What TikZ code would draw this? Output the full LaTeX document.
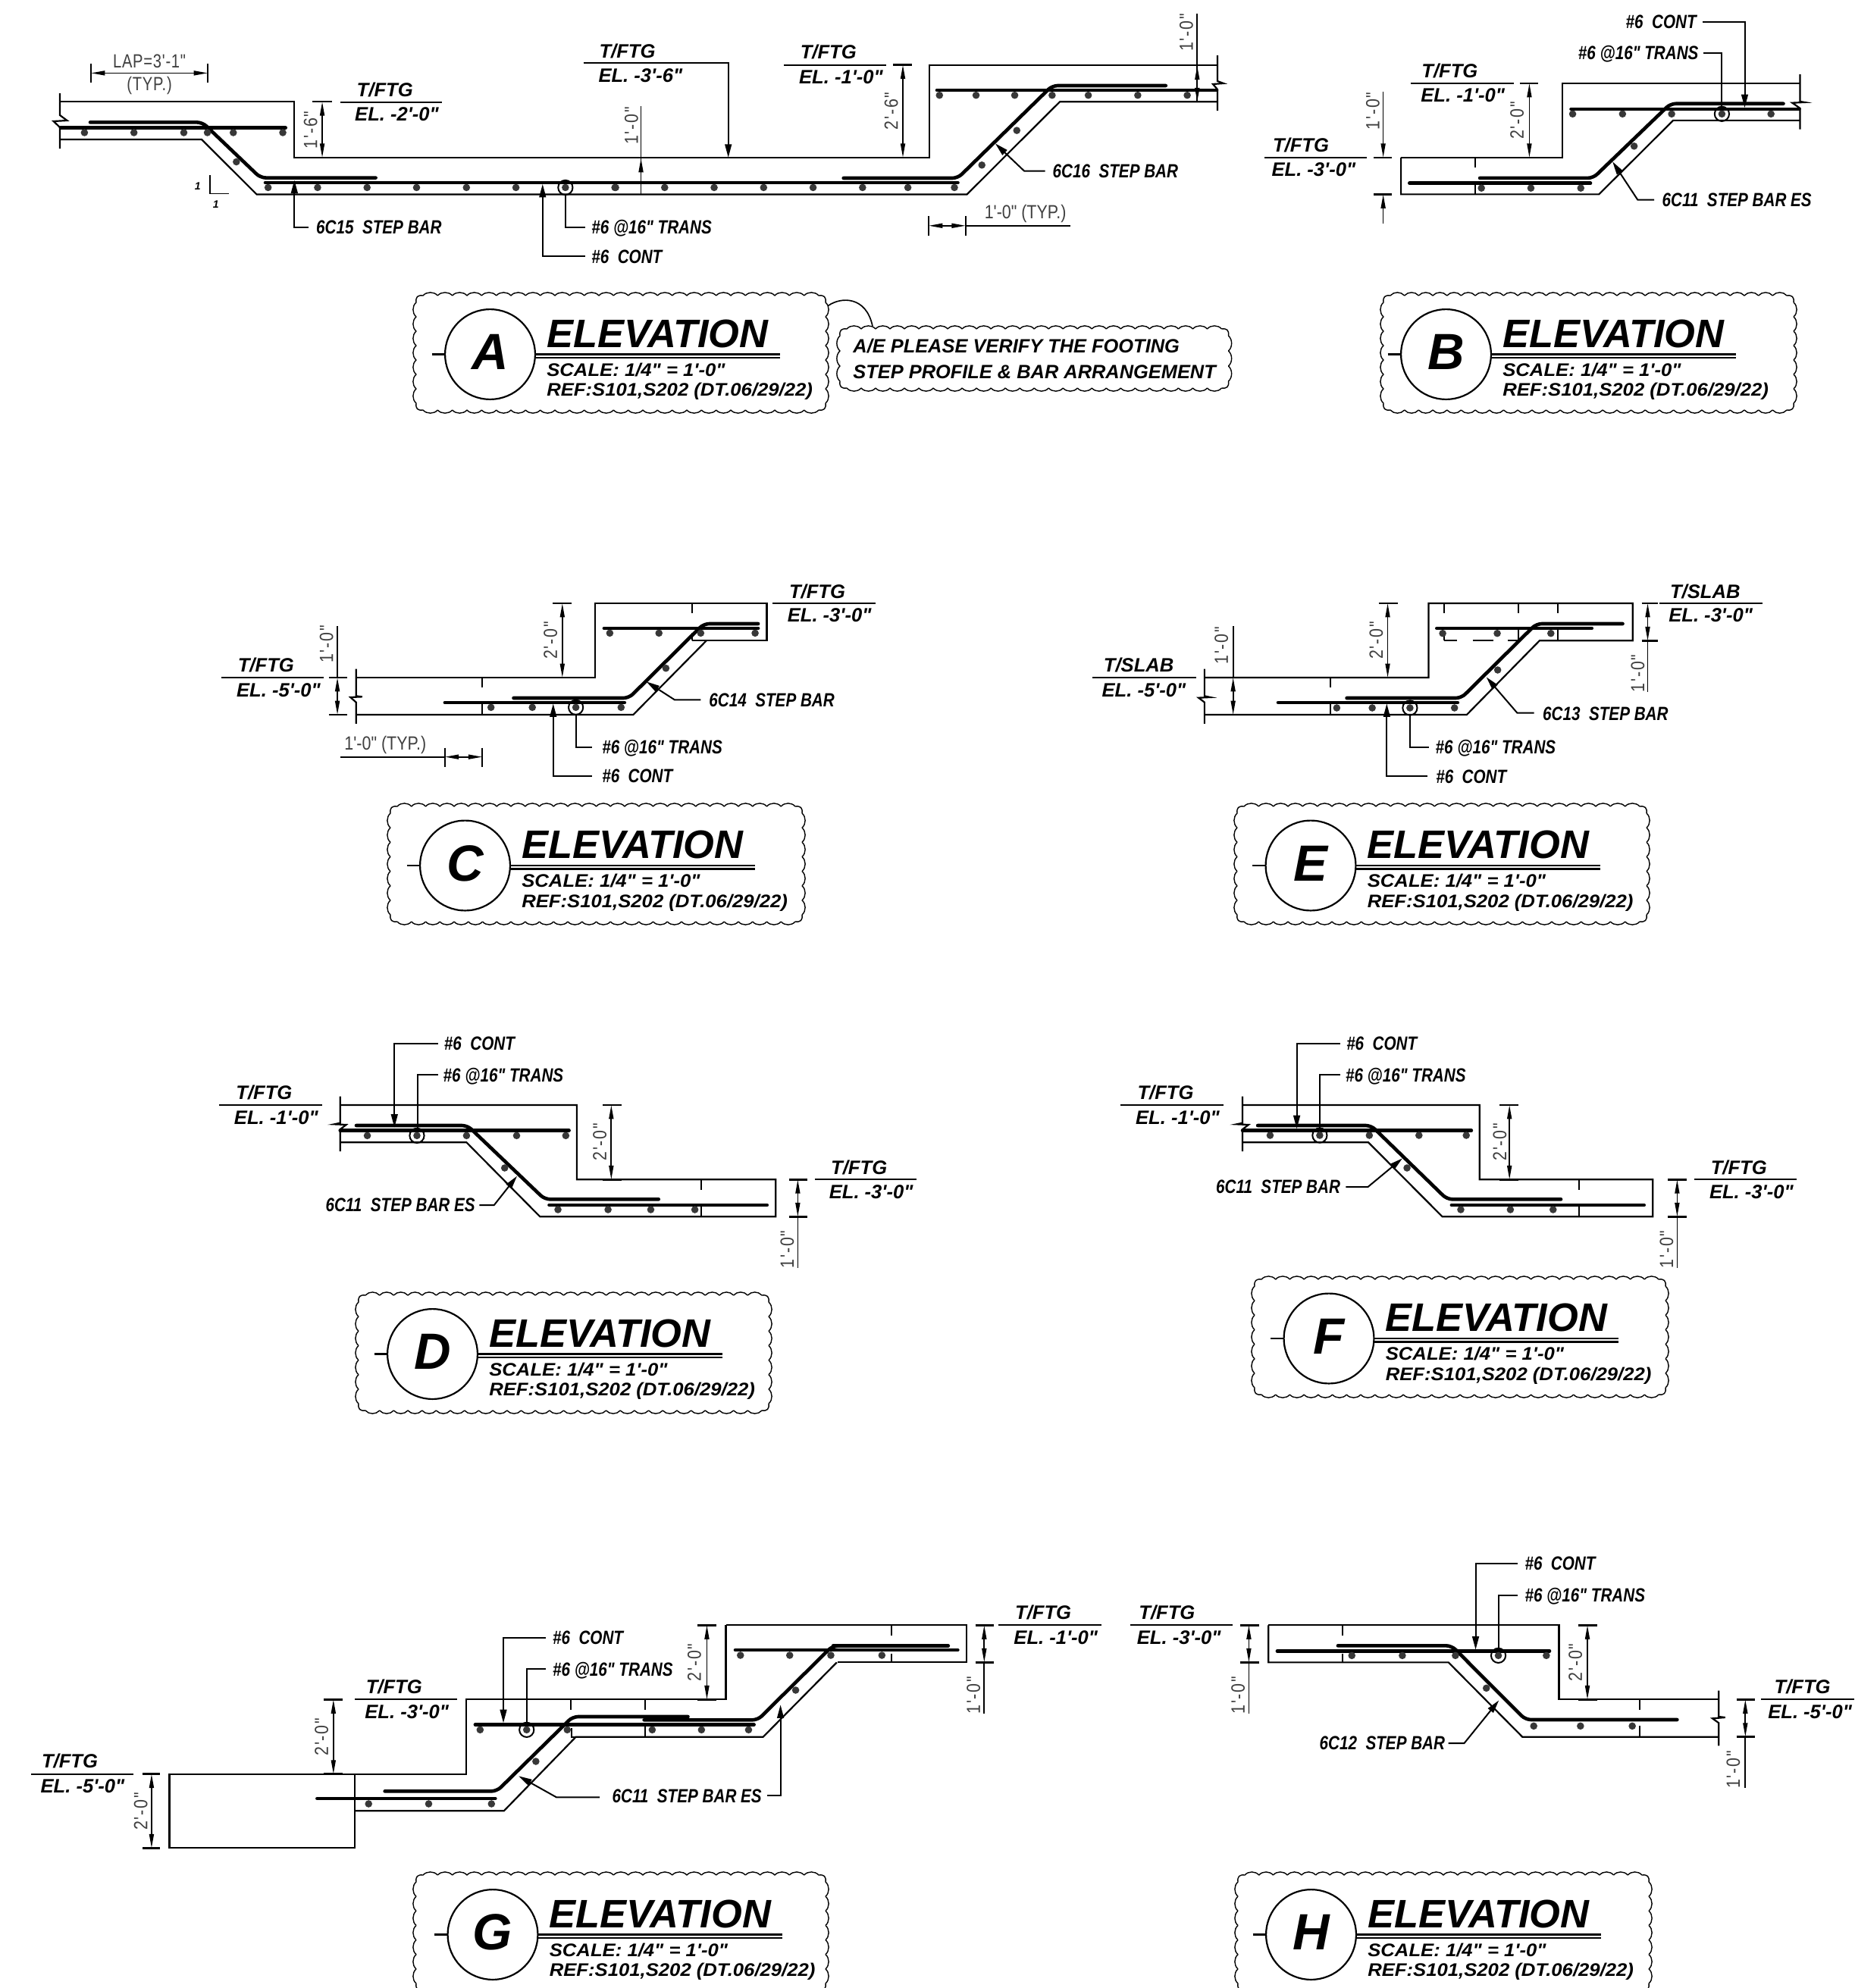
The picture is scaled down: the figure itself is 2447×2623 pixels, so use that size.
\documentclass[tikz,border=0pt]{standalone}
\usepackage{fontspec}
\usetikzlibrary{arrows.meta}
\newfontfamily\fnorm{Liberation Sans}
\newfontfamily\fcall[FakeStretch=0.82]{Liberation Sans}
\newfontfamily\fdim[FakeStretch=0.85]{Liberation Sans}
\newfontfamily\fvd[FakeStretch=0.85,LetterSpace=7]{Liberation Sans}
\newfontfamily\flap[FakeStretch=0.8,LetterSpace=3]{Liberation Sans}
\newfontfamily\fsub[FakeStretch=1.07]{Liberation Sans}
\newcounter{nn}
\tikzset{
 >={Triangle[length=4.6pt,width=1.5pt]},
 zm/.style n args={4}{xshift=#1*0.25pt,yshift=-#2*0.25pt,x=0.25pt/#3,y=-0.25pt/#4},
 ol/.style={line width=0.55pt,line join=miter},
 dl/.style={line width=0.42pt},
 ld/.style={line width=0.5pt,>={Triangle[length=4.4pt,width=2.2pt]}},
 bar/.style={line width=1.15pt,line cap=round,rounded corners=1.8pt},
 dotc/.style={fill=black!78},
 clab/.style={anchor=base west,inner sep=0pt,font=\fcall\bfseries\itshape\fontsize{6.3}{7}\selectfont},
 elab/.style={anchor=base west,inner sep=0pt,font=\fnorm\bfseries\itshape\fontsize{6.4}{7}\selectfont},
 vdim/.style={rotate=90,anchor=center,inner sep=0pt,text=black!75,font=\fvd\fontsize{6.3}{7}\selectfont},
 hdim/.style={anchor=base west,inner sep=0pt,text=black!75,font=\fdim\fontsize{6.3}{7}\selectfont},
 lapdim/.style={anchor=base,inner sep=0pt,text=black!75,font=\flap\fontsize{6.3}{7}\selectfont},
 cl/.style={line width=0.35pt},
 bigletter/.style={anchor=base,inner sep=0pt,font=\fnorm\bfseries\itshape\fontsize{16.8}{18}\selectfont},
 bigtitle/.style={anchor=base west,inner sep=0pt,font=\fnorm\bfseries\itshape\fontsize{13.1}{14}\selectfont},
 subtitle/.style={anchor=base west,inner sep=0pt,font=\fsub\bfseries\itshape\fontsize{6}{7}\selectfont},
 notetext/.style={anchor=base west,inner sep=0pt,font=\fnorm\bfseries\itshape\fontsize{6.35}{7}\selectfont},
 tiny1/.style={anchor=center,inner sep=0pt,font=\fnorm\bfseries\itshape\fontsize{3.5}{4}\selectfont},
}
\newcommand{\Clab}[3]{\stepcounter{nn}\node[clab] (n\thenn) at (#1,#2) {#3};}
\newcommand{\Vdim}[3]{\stepcounter{nn}\node[vdim] (n\thenn) at (#1,#2) {#3};}
\newcommand{\Hdim}[3]{\stepcounter{nn}\node[hdim] (n\thenn) at (#1,#2) {#3};}
% level mark: line x1 x2 y, name at x y, elevation at x y, name, elevation
\newcommand{\lev}[9]{\draw[ol] (#1,#3)--(#2,#3);\stepcounter{nn}\node[elab] (n\thenn) at (#4,#5) {#8};\stepcounter{nn}\node[elab] (n\thenn) at (#6,#7) {#9};}
\newcommand{\dotrow}[2]{\foreach \q in {#2} {\fill[dotc] (\q,#1) circle (1.2pt);}}
\newcommand{\circdot}[2]{\draw[ld] (#1,#2) circle (2.4pt);\fill[dotc] (#1,#2) circle (1.2pt);}
\newcommand{\tbar}[3]{\draw[dl,line width=0.6pt] (#1,#3)--(#2,#3);}
% scalloped revision cloud, in full-size pixel units: left top right bottom (outer extent)
\newcommand{\cloudrect}[4]{%
 \pgfmathsetmacro\cL{#1+4}
 \pgfmathsetmacro\cT{#2+4}
 \pgfmathsetmacro\cR{#3-4}
 \pgfmathsetmacro\cD{#4-4}
 \pgfmathsetmacro\cC{9}
 \pgfmathtruncatemacro\cNh{round((\cR-\cL-2*\cC)/19)}
 \pgfmathtruncatemacro\cNv{round((\cD-\cT-2*\cC)/19)}
 \pgfmathsetmacro\cWh{(\cR-\cL-2*\cC)/\cNh}
 \pgfmathsetmacro\cWv{(\cD-\cT-2*\cC)/\cNv}
 \foreach \i in {1,...,\cNh}{
  \pgfmathsetmacro\cA{\cL+\cC+(\i-1)*\cWh}
  \pgfmathsetmacro\cB{\cA+\cWh}
  \pgfmathsetmacro\cP{\cA+\cWh/4}
  \pgfmathsetmacro\cQ{\cA+3*\cWh/4}
  \draw[cl] (\cA,\cT) .. controls (\cP,{\cT-5.5}) and (\cQ,{\cT-5.5}) .. (\cB,\cT);
  \draw[cl] (\cA,\cD) .. controls (\cP,{\cD+5.5}) and (\cQ,{\cD+5.5}) .. (\cB,\cD);
 }
 \foreach \i in {1,...,\cNv}{
  \pgfmathsetmacro\cA{\cT+\cC+(\i-1)*\cWv}
  \pgfmathsetmacro\cB{\cA+\cWv}
  \pgfmathsetmacro\cP{\cA+\cWv/4}
  \pgfmathsetmacro\cQ{\cA+3*\cWv/4}
  \draw[cl] (\cL,\cA) .. controls ({\cL-5.5},\cP) and ({\cL-5.5},\cQ) .. (\cL,\cB);
  \draw[cl] (\cR,\cA) .. controls ({\cR+5.5},\cP) and ({\cR+5.5},\cQ) .. (\cR,\cB);
 }
 \draw[cl] (\cL,{\cT+\cC}) .. controls ({\cL-1},{\cT+2}) and ({\cL+2},{\cT-1}) .. ({\cL+\cC},\cT);
 \draw[cl] ({\cR-\cC},\cT) .. controls ({\cR-2},{\cT-1}) and ({\cR+1},{\cT+2}) .. (\cR,{\cT+\cC});
 \draw[cl] (\cL,{\cD-\cC}) .. controls ({\cL-1},{\cD-2}) and ({\cL+2},{\cD+1}) .. ({\cL+\cC},\cD);
 \draw[cl] ({\cR-\cC},\cD) .. controls ({\cR-2},{\cD+1}) and ({\cR+1},{\cD-2}) .. (\cR,{\cD-\cC});
}
% title block: left top right bottom cx cy letter
\newcommand{\tblock}[7]{%
 \cloudrect{#1}{#2}{#3}{#4}
 \draw[ol] ({#5},{#6}) circle (14.85pt);
 \draw[ol] ({#5-77},#6)--({#5-59.5},#6);
 \draw[ol] ({#5+59.5},#6)--({#5+382},#6);
 \draw[ol] ({#5+59.5},{#6+4.5})--({#5+382},{#6+4.5});
 \stepcounter{nn}\node[bigletter] (n\thenn) at (#5,{#6+20}) {#7};
 \stepcounter{nn}\node[bigtitle] (n\thenn) at ({#5+74},{#6-9.5}) {ELEVATION};
 \stepcounter{nn}\node[subtitle] (n\thenn) at ({#5+74},{#6+28.5}) {SCALE: 1/4" = 1'-0"};
 \stepcounter{nn}\node[subtitle] (n\thenn) at ({#5+74},{#6+55}) {REF:S101,S202 (DT.06/29/22)};
}
\begin{document}
\begin{tikzpicture}[x=0.25pt,y=-0.25pt]
\useasboundingbox (0,0) rectangle (2447,2623);
\clip (0,0) rectangle (2447,2623);
\fill[white] (0,0) rectangle (2447,2623);

% ===== A =====
\draw[ol] (79,123)--(79,152)--(88.5,159)--(70.6,160)--(79,168)--(79,196);
\draw[ol] (79,134.3)--(388,134.3)--(388,207.9)--(1225.7,207.9)--(1225.7,85.7)--(1606,85.7);
\draw[ol] (79,184)--(266,184)--(338.5,256.4)--(1275.6,256.4)--(1398,134.3)--(1606,134.3);
\draw[ol] (1606,73)--(1606,107)--(1614,110)--(1600,111)--(1606,118)--(1606,146);
\draw[bar] (119,161.4)--(267,161.4)--(343.6,234.6)--(495.6,234.6);
\draw[bar] (80,168.6)--(376.7,168.6);
\draw[bar] (350,241)--(1263.5,241);
\draw[bar] (1112.7,235)--(1263.5,235)--(1388,113)--(1537.8,113);
\draw[bar] (1236,119)--(1605,119);
\draw[ld,->] (769.6,83.2)--(960.7,83.2)--(960.7,207.9);
\begin{scope}[zm={40}{0}{1.96}{2.8}]
 \dotrow{490}{140,268,397,458,525,653}
 \fill[dotc] (533,598) circle (1.2pt);
 \dotrow{693}{615,743,871,999,1128,1256,1512}
 \circdot{1384}{693}
 \draw[dl] (157,235)--(157,305) (459,235)--(459,305);
 \draw[dl,<->] (157,270)--(459,270);
 \stepcounter{nn}\node[lapdim] (n\thenn) at (308,250) {LAP=3'-1"};
 \stepcounter{nn}\node[lapdim] (n\thenn) at (308,336) {(TYP.)};
 \tbar{730}{780}{376}\tbar{730}{780}{582}
 \draw[dl,<->] (755,376)--(755,582);
 \Vdim{725}{480}{1'-6"}
 \lev{802}{1065}{377}{843}{358}{838}{447}{T/FTG}{EL. -2'-0"}
 \draw[dl] (465,648)--(465,716)--(513,716);
 \stepcounter{nn}\node[tiny1] (n\thenn) at (433,688) {1};
 \stepcounter{nn}\node[tiny1] (n\thenn) at (480,755) {1};
 \draw[ld,->] (720,840)--(683,840)--(683,665);
 \Clab{738}{865}{6C15\ \ STEP BAR}
 \draw[ld,->] (1435,947)--(1325,947)--(1325,680);
 \Clab{1450}{972}{\#6\ \ CONT}
 \draw[ld] (1435,840)--(1384,840)--(1384,718);
 \Clab{1450}{865}{\#6 @16" TRANS}
 \stepcounter{nn}\node[elab] (n\thenn) at (1470,215) {T/FTG};
 \stepcounter{nn}\node[elab] (n\thenn) at (1468,303) {EL. -3'-6"};
\end{scope}
\begin{scope}[zm={800}{0}{1.823}{2.8}]
 \dotrow{693}{140,259,378,497,616,725,837,22}
 \fill[dotc] (903,610) circle (1.2pt);
 \fill[dotc] (987,482) circle (1.2pt);
 \dotrow{352}{801,889,982,1072,1159,1278,1397}
 \draw[dl] (83,392)--(83,718);
 \draw[dl,<-] (83,585)--(83,640);
 \Vdim{60}{465}{1'-0"}
 \lev{427}{673}{240}{465}{218}{462}{310}{T/FTG}{EL. -1'-0"}
 \tbar{690}{735}{240}\tbar{695}{735}{582}
 \draw[dl,<->] (713,240)--(713,582);
 \Vdim{685}{410}{2'-6"}
 \draw[dl] (1421,50)--(1421,378);
 \draw[dl,<-] (1421,243)--(1421,300);
 \draw[dl,->] (1421,320)--(1421,376);
 \Vdim{1395}{120}{1'-0"}
 \draw[ld,->] (1055,632)--(1005,632)--(935,530);
 \Clab{1072}{657}{6C16\ \ STEP BAR}
 \draw[dl] (775,798)--(775,870) (864,798)--(864,870);
 \draw[dl,<->] (775,834)--(864,834);
 \draw[dl] (864,834)--(1116,834);
 \Hdim{908}{808}{1'-0" (TYP.)}
 \draw[dl] (533,1130) .. controls (565,1095) and (625,1095) .. (640,1205);
 \stepcounter{nn}\node[notetext] (n\thenn) at (592,1305) {A/E PLEASE VERIFY THE FOOTING};
 \stepcounter{nn}\node[notetext] (n\thenn) at (592,1398) {STEP PROFILE \& BAR ARRANGEMENT};
\end{scope}
\cloudrect{1104}{430}{1624.5}{516}
\tblock{545}{386}{1093}{545}{646.5}{467.5}{A}

% ===== B =====
\begin{scope}[zm={1640}{0}{1.96}{2.8}]
 \draw[ol] (408,582)--(825,582)--(825,307)--(1440,307);
 \draw[ol] (408,582)--(408,718)--(920,718)--(1112,445)--(1440,445);
 \draw[ol] (1440,275)--(1440,375)--(1452,378)--(1420,380)--(1440,400)--(1440,478);
 \draw[dl] (600,582)--(600,620) (600,682)--(600,718);
 \draw[bar] (612,658)--(905,658)--(1105,383)--(1397,383);
 \draw[bar] (430,677)--(898,677);
 \draw[bar] (848,403)--(1438,403);
 \dotrow{695}{616,744,873}
 \fill[dotc] (1011,540) circle (1.2pt);
 \dotrow{421}{852,981,1108,1365}
 \circdot{1238}{421}
 \draw[dl,->] (362,340)--(362,582);
 \draw[dl,->] (362,825)--(362,718);
 \tbar{338}{385}{582}\tbar{338}{385}{718}
 \Vdim{335}{410}{1'-0"}
 \lev{55}{320}{582}{75}{562}{72}{652}{T/FTG}{EL. -3'-0"}
 \lev{433}{700}{308}{460}{288}{458}{378}{T/FTG}{EL. -1'-0"}
 \tbar{715}{763}{308}\tbar{715}{763}{582}
 \draw[dl,<->] (740,308)--(740,582);
 \Vdim{708}{445}{2'-0"}
 \draw[ld,->] (1188,80)--(1297,80)--(1297,398);
 \Clab{988}{105}{\#6\ \ CONT}
 \draw[ld] (1190,197)--(1238,197)--(1238,395);
 \Clab{865}{220}{\#6 @16" TRANS}
 \draw[ld,->] (1063,738)--(1020,738)--(955,597);
 \Clab{1082}{762}{6C11\ \ STEP BAR ES}
\end{scope}
\tblock{1821}{386}{2370}{545}{1907.5}{467.5}{B}

% ===== C =====
\begin{scope}[zm={270}{740}{1.742}{3}]
 \draw[ol] (348,462)--(897,462)--(897,168)--(1292,168)--(1292,316)--(1120,316);
 \draw[ol] (348,609)--(985,609)--(1153,316);
 \draw[ol] (348,428)--(348,535)--(362,538)--(335,540)--(348,560)--(348,645);
 \draw[dl] (1120,168)--(1120,208) (1120,285)--(1120,316) (638,462)--(638,502) (638,568)--(638,609);
 \draw[bar] (710,543)--(975,543)--(1147,249)--(1272,249);
 \draw[bar] (552,561)--(965,561);
 \draw[bar] (918,267)--(1272,267);
 \dotrow{580}{658,753,957}
 \circdot{853}{580}
 \fill[dotc] (1060,425) circle (1.2pt);
 \dotrow{286}{931,1044,1140,1265}
 \draw[dl] (305,258)--(305,462);
 \draw[dl,<->] (305,462)--(305,609);
 \tbar{285}{327}{462}\tbar{285}{327}{609}
 \Vdim{280}{330}{1'-0"}
 \lev{38}{274}{462}{75}{440}{72}{538}{T/FTG}{EL. -5'-0"}
 \draw[dl,<->] (822,168)--(822,462);
 \tbar{800}{843}{168}\tbar{800}{843}{462}
 \Vdim{795}{315}{2'-0"}
 \lev{1305}{1542}{168}{1342}{148}{1338}{242}{T/FTG}{EL. -3'-0"}
 \draw[ld,->] (1140,550)--(1080,550)--(1015,478);
 \Clab{1158}{577}{6C14\ \ STEP BAR}
 \draw[ld] (890,738)--(853,738)--(853,607);
 \Clab{912}{765}{\#6 @16" TRANS}
 \draw[ld,->] (890,852)--(801,852)--(801,565);
 \Clab{912}{878}{\#6\ \ CONT}
 \draw[dl] (312,776)--(552,776);
 \draw[dl] (552,740)--(552,815) (638,740)--(638,815);
 \draw[dl,<->] (552,776)--(638,776);
 \Hdim{320}{750}{1'-0" (TYP.)}
\end{scope}
\tblock{511}{1060}{1062}{1220}{613.5}{1142}{C}

% ===== E =====
\begin{scope}[zm={1400}{740}{1.668}{3}]
 \draw[ol] (315,462)--(808,462)--(808,168)--(1257,168)--(1257,316)--(1052,316)--(892,609)--(315,609);
 \draw[ol] (315,428)--(315,535)--(328,540)--(302,542)--(315,560)--(315,645);
 \draw[dl] (842,168)--(842,208) (1006,168)--(1006,208) (1092,168)--(1092,208) (592,462)--(592,502) (592,568)--(592,609) (1092,270)--(1092,316) (1006,270)--(1006,316) (842,290)--(842,316);
 \draw[ol] (842,316)--(870,316) (905,316)--(950,316) (982,316)--(1005,316);
 \draw[bar] (628,543)--(880,543)--(1045,249)--(1235,249);
 \draw[bar] (477,561)--(872,561);
 \draw[bar] (826,267)--(1167,267);
 \dotrow{582}{606,684,865}
 \circdot{767}{582}
 \fill[dotc] (960,432) circle (1.2pt);
 \dotrow{287}{839,959,1077}
 \draw[dl] (378,258)--(378,462);
 \draw[dl,<->] (378,462)--(378,609);
 \tbar{358}{398}{462}\tbar{358}{398}{609}
 \Vdim{352}{335}{1'-0"}
 \lev{68}{296}{462}{92}{440}{88}{538}{T/SLAB}{EL. -5'-0"}
 \draw[dl,<->] (718,168)--(718,462);
 \tbar{698}{740}{168}\tbar{698}{740}{462}
 \Vdim{693}{315}{2'-0"}
 \tbar{1277}{1312}{168}\tbar{1277}{1312}{316}
 \draw[dl,<->] (1290,168)--(1290,316);
 \draw[dl] (1290,316)--(1290,520);
 \Vdim{1268}{445}{1'-0"}
 \lev{1316}{1542}{168}{1338}{148}{1335}{242}{T/SLAB}{EL. -3'-0"}
 \draw[ld,->] (1040,602)--(1003,602)--(935,460);
 \Clab{1058}{630}{6C13\ \ STEP BAR}
 \draw[ld] (808,738)--(767,738)--(767,607);
 \Clab{822}{765}{\#6 @16" TRANS}
 \draw[ld,->] (806,852)--(716,852)--(716,565);
 \Clab{823}{880}{\#6\ \ CONT}
\end{scope}
\tblock{1628}{1060}{2176}{1220}{1729}{1142}{E}

% ===== D =====
\begin{scope}[zm={270}{1350}{1.65}{3}]
 \draw[ol] (295,324)--(810,324)--(810,619)--(1243,619)--(1243,766)--(730,766)--(570,472)--(295,472);
 \draw[ol] (295,290)--(295,395)--(282,400)--(308,402)--(295,420)--(295,507);
 \draw[dl] (1081,619)--(1081,660) (1081,725)--(1081,766);
 \draw[bar] (330,405)--(572,405)--(740,697)--(988,697);
 \draw[bar] (295,425)--(793,425);
 \draw[bar] (750,720)--(1224,720);
 \dotrow{445}{354,570,679,786}
 \circdot{462}{445}
 \fill[dotc] (653,573) circle (1.2pt);
 \dotrow{738}{769,878,971,1067}
 \draw[dl,<->] (885,324)--(885,619);
 \tbar{867}{907}{324}\tbar{867}{907}{619}
 \Vdim{860}{470}{2'-0"}
 \draw[dl,<->] (1291,619)--(1291,766);
 \draw[dl] (1291,766)--(1291,968);
 \tbar{1272}{1312}{619}\tbar{1272}{1312}{766}
 \Vdim{1268}{895}{1'-0"}
 \lev{1328}{1550}{619}{1362}{597}{1358}{693}{T/FTG}{EL. -3'-0"}
 \lev{31}{255}{324}{67}{302}{63}{400}{T/FTG}{EL. -1'-0"}
 \draw[ld,->] (508,80)--(413,80)--(413,413);
 \Clab{520}{106}{\#6\ \ CONT}
 \draw[ld] (508,205)--(463,205)--(463,420);
 \Clab{518}{232}{\#6 @16" TRANS}
 \draw[ld,->] (598,720)--(630,720)--(680,605);
 \Clab{262}{745}{6C11\ \ STEP BAR ES}
\end{scope}
\tblock{469}{1705}{1018}{1865}{570.5}{1786.5}{D}

% ===== F =====
\begin{scope}[zm={1450}{1350}{1.65}{3}]
 \draw[ol] (312,324)--(828,324)--(828,619)--(1205,619)--(1205,766)--(747,766)--(586,472)--(312,472);
 \draw[ol] (312,290)--(312,395)--(299,400)--(325,402)--(312,420)--(312,507);
 \draw[dl] (1044,619)--(1044,660) (1044,725)--(1044,766);
 \draw[bar] (345,405)--(592,405)--(757,697)--(1005,697);
 \draw[bar] (312,425)--(810,425);
 \draw[bar] (767,720)--(1186,720);
 \dotrow{444}{372,588,696,799}
 \circdot{480}{444}
 \fill[dotc] (670,573) circle (1.2pt);
 \dotrow{738}{787,895,988}
 \draw[dl,<->] (893,324)--(893,619);
 \tbar{872}{913}{324}\tbar{872}{913}{619}
 \Vdim{872}{470}{2'-0"}
 \draw[dl,<->] (1258,619)--(1258,766);
 \draw[dl] (1258,766)--(1258,968);
 \tbar{1238}{1278}{619}\tbar{1238}{1278}{766}
 \Vdim{1235}{895}{1'-0"}
 \lev{1295}{1518}{619}{1330}{597}{1327}{693}{T/FTG}{EL. -3'-0"}
 \lev{46}{270}{324}{82}{302}{78}{400}{T/FTG}{EL. -1'-0"}
 \draw[ld,->] (525,80)--(430,80)--(430,418);
 \Clab{537}{106}{\#6\ \ CONT}
 \draw[ld] (525,205)--(480,205)--(480,420);
 \Clab{535}{232}{\#6 @16" TRANS}
 \draw[ld,->] (537,648)--(585,648)--(660,535);
 \Clab{253}{672}{6C11\ \ STEP BAR}
\end{scope}
\tblock{1651}{1684}{2201}{1844}{1753}{1766}{F}

% ===== G =====
\draw[ol] (957.9,2144.3)--(1275,2144.3)--(1275,2193.3)--(1105,2193.3);
\draw[bar] (1099,2171.7)--(1250.8,2171.7);
\draw[bar] (970,2177)--(1263.3,2177);
\begin{scope}[zm={20}{2030}{1.4}{3}]
 \draw[ol] (285,932)--(628,932)--(628,1225)--(285,1225)--cycle;
 \draw[ol] (628,932)--(833,932)--(833,637)--(1313,637)--(1313,343);
 \draw[ol] (628,1078)--(903,1078)--(1036,785)--(1382,785)--(1518,490);
 \draw[ol] (1028,750)--(1028,785)--(1036,785);
 \draw[dl] (1164,745)--(1164,785) (1027,637)--(1027,678) (1164,637)--(1164,678);
 \draw[bar] (683,1000)--(890,1000)--(1030,705)--(1243,705);
 \draw[bar] (1162,718)--(1372,718)--(1510,425)--(1593,425);
 \draw[bar] (558,1029)--(887,1029);
 \draw[bar] (850,736)--(1365,736);
 \dotrow{1050}{653,764,880}
 \fill[dotc] (962,882) circle (1.2pt);
 \dotrow{757}{859,1020,1177,1268,1355}
 \circdot{945}{757}
 \fill[dotc] (1442,600) circle (1.2pt);
 \dotrow{462}{1340,1431,1507}
 \draw[dl,<->] (252,932)--(252,1225);
 \tbar{235}{267}{932}\tbar{235}{267}{1225}
 \Vdim{232}{1080}{2'-0"}
 \lev{30}{218}{932}{48}{908}{46}{1007}{T/FTG}{EL. -5'-0"}
 \draw[dl,<->] (588,637)--(588,932);
 \tbar{570}{605}{637}\tbar{570}{605}{932}
 \Vdim{566}{785}{2'-0"}
 \lev{628}{816}{637}{647}{613}{645}{712}{T/FTG}{EL. -3'-0"}
 \draw[dl,<->] (1278,343)--(1278,637);
 \tbar{1260}{1295}{343}\tbar{1260}{1295}{637}
 \Vdim{1255}{490}{2'-0"}
 \draw[ld,->] (980,392)--(902,392)--(902,730);
 \Clab{992}{417}{\#6\ \ CONT}
 \draw[ld] (980,515)--(945,515)--(945,735);
 \Clab{992}{543}{\#6 @16" TRANS}
 \draw[ld,->] (1080,1024)--(1000,1024)--(930,940);
 \Clab{1102}{1045}{6C11\ \ STEP BAR ES}
 \draw[ld,->] (1390,1018)--(1414,1018)--(1414,658);
\end{scope}
\begin{scope}[zm={1140}{2030}{1.2}{3}]
 \draw[ol] (0,490)--(162,490)--(162,343);
 \draw[dl] (43,343)--(43,383) (43,455)--(43,490);
 \fill[dotc] (28,462) circle (1.2pt);
 \draw[dl,<->] (190,343)--(190,490);
 \draw[dl] (190,490)--(190,692);
 \tbar{176}{205}{343}\tbar{176}{205}{490}
 \Vdim{173}{620}{1'-0"}
 \lev{212}{376}{343}{238}{320}{236}{417}{T/FTG}{EL. -1'-0"}
 % ===== H =====
 \draw[ol] (640,343)--(1100,343)--(1100,637)--(1353,637);
 \draw[ol] (640,343)--(640,490)--(925,490)--(1042,785)--(1353,785);
 \draw[ol] (1353,602)--(1353,705)--(1363,708)--(1343,712)--(1353,730)--(1353,820);
 \draw[dl] (757,343)--(757,383) (757,455)--(757,490) (1228,637)--(1228,678) (1228,740)--(1228,785);
 \draw[bar] (750,424)--(930,424)--(1047,717)--(1287,717);
 \draw[bar] (654,445)--(1085,445);
 \dotrow{463}{772,852,936,1080}
 \circdot{1004}{463}
 \fill[dotc] (985,592) circle (1.2pt);
 \dotrow{742}{1060,1134,1216}
 \draw[dl,<->] (609,343)--(609,490);
 \draw[dl] (609,490)--(609,692);
 \tbar{595}{625}{343}\tbar{595}{625}{490}
 \Vdim{592}{620}{1'-0"}
 \lev{421}{583}{343}{434}{320}{431}{417}{T/FTG}{EL. -3'-0"}
 \draw[dl,<->] (1145,343)--(1145,637);
 \tbar{1130}{1160}{343}\tbar{1130}{1160}{637}
 \Vdim{1126}{490}{2'-0"}
 \draw[dl,<->] (1395,637)--(1395,785);
 \draw[dl] (1395,785)--(1395,988);
 \tbar{1381}{1410}{637}\tbar{1381}{1410}{785}
 \Vdim{1376}{915}{1'-0"}
 \lev{1420}{1568}{637}{1440}{613}{1430}{712}{T/FTG}{EL. -5'-0"}
 \draw[ld,->] (1035,98)--(968,98)--(968,440);
 \Clab{1045}{125}{\#6\ \ CONT}
 \draw[ld] (1035,225)--(1004,225)--(1004,440);
 \Clab{1045}{250}{\#6 @16" TRANS}
 \draw[ld,->] (925,810)--(950,810)--(1005,640);
 \Clab{720}{835}{6C12\ \ STEP BAR}
\end{scope}
\tblock{545}{2470}{1093}{2630}{650}{2552.5}{G}
\tblock{1629}{2470}{2179}{2630}{1729.5}{2552.5}{H}
\end{tikzpicture}
\end{document}
